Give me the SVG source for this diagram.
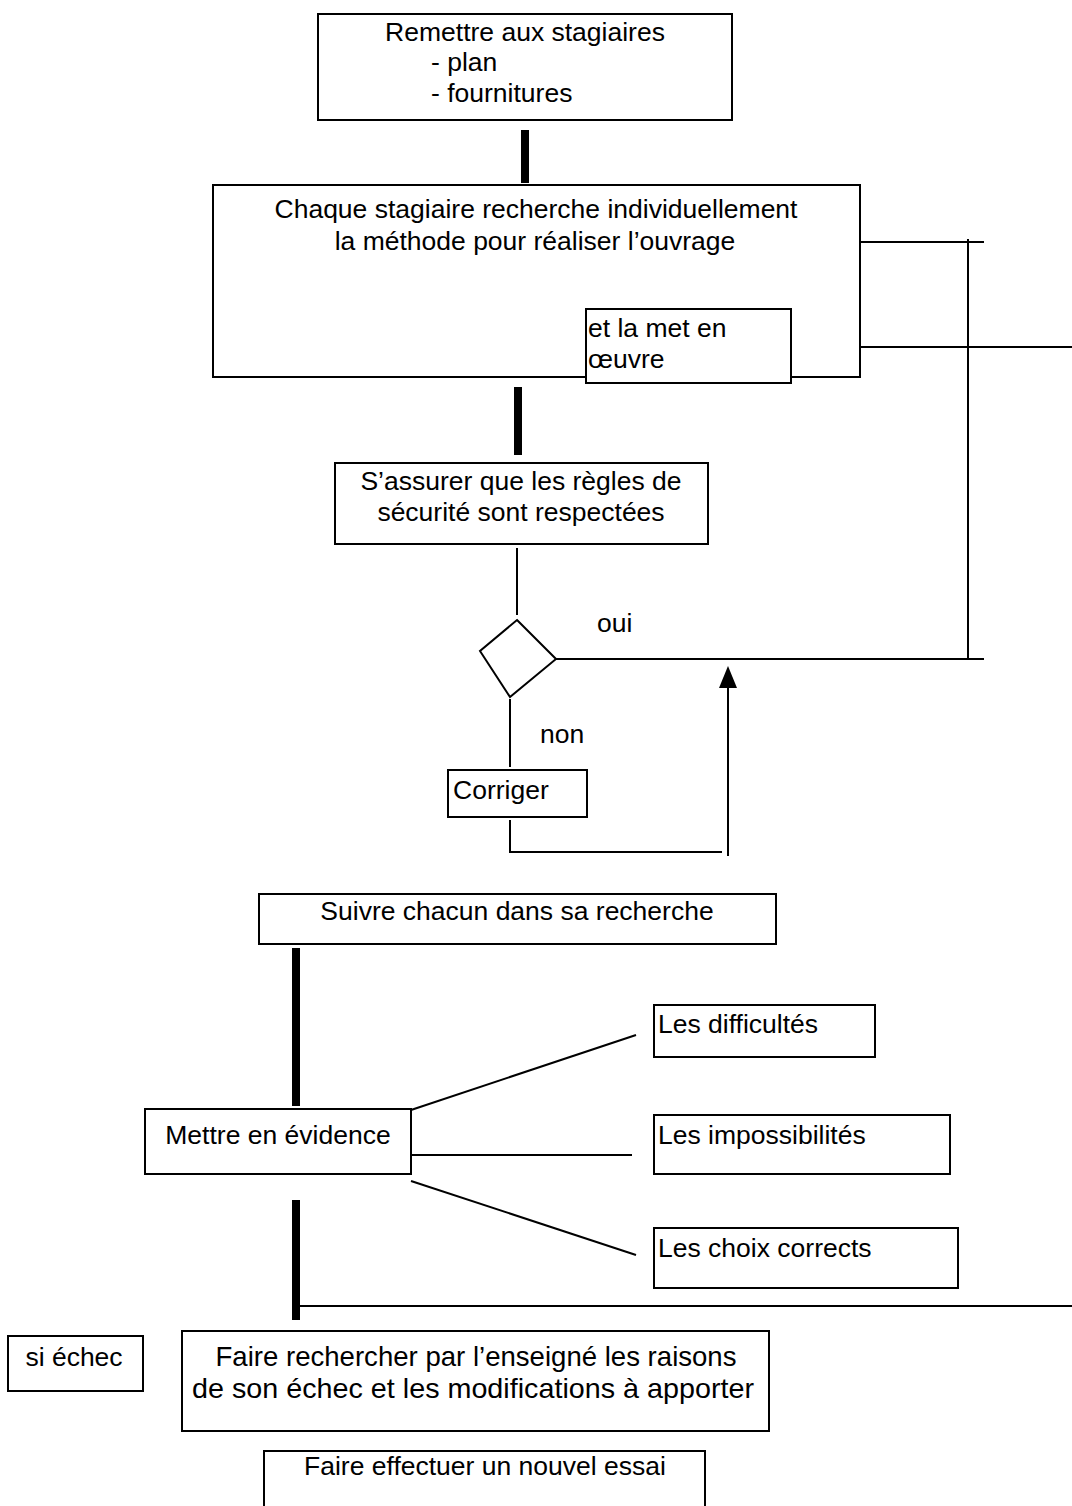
<svg xmlns="http://www.w3.org/2000/svg" width="1072" height="1506" viewBox="0 0 1072 1506">
<style>
.box{fill:#fff;stroke:#000;stroke-width:2}
.ln{stroke:#000;stroke-width:2;fill:none}
.thick{stroke:#000;stroke-width:8;fill:none}
text{font-family:"Liberation Sans",Arial,sans-serif;font-size:26.5px;fill:#000}
.c{text-anchor:middle}
.big{font-size:28px}
</style>
<rect width="1072" height="1506" fill="#fff"/>
<g id="connectors">
<line class="thick" x1="525" y1="130" x2="525" y2="183"/>
<line class="thick" x1="518" y1="387" x2="518" y2="455"/>
<line class="thick" x1="296" y1="948" x2="296" y2="1106"/>
<line class="thick" x1="296" y1="1200" x2="296" y2="1320"/>
<line class="ln" x1="860" y1="242" x2="984" y2="242"/>
<line class="ln" x1="968" y1="239" x2="968" y2="659"/>
<line class="ln" x1="791" y1="347" x2="1072" y2="347"/>
<line class="ln" x1="555" y1="659" x2="984" y2="659"/>
<line class="ln" x1="517" y1="548" x2="517" y2="615"/>
<line class="ln" x1="510" y1="699" x2="510" y2="767"/>
<polyline class="ln" points="510,820 510,852 722,852"/>
<line class="ln" x1="728" y1="856" x2="728" y2="685"/>
<polygon points="728,666 719,688 737,688" fill="#000"/>
<line class="ln" x1="411" y1="1110" x2="636" y2="1035"/>
<line class="ln" x1="411" y1="1155" x2="632" y2="1155"/>
<line class="ln" x1="411" y1="1181" x2="636" y2="1255"/>
<line class="ln" x1="300" y1="1306" x2="1072" y2="1306"/>
</g>
<g id="n-remettre">
<rect class="box" x="318" y="14" width="414" height="106"/>
<text class="c" x="525" y="41">Remettre aux stagiaires</text>
<text x="431" y="71">- plan</text>
<text x="431" y="102">- fournitures</text>
</g>
<g id="n-chaque">
<rect class="box" x="213" y="185" width="647" height="192"/>
<text class="c" x="536" y="218">Chaque stagiaire recherche individuellement</text>
<text class="c" x="535" y="250">la méthode pour réaliser l’ouvrage</text>
</g>
<g id="n-met">
<rect class="box" x="586" y="309" width="205" height="74"/>
<text x="588" y="337">et la met en</text>
<text x="588" y="368">œuvre</text>
</g>
<g id="n-assurer">
<rect class="box" x="335" y="463" width="373" height="81"/>
<text class="c" x="521" y="490">S’assurer que les règles de</text>
<text class="c" x="521" y="521">sécurité sont respectées</text>
</g>
<g id="n-decision">
<polygon class="box" points="517,620 556,659 510,697 480,651"/>
<text x="597" y="632">oui</text>
<text x="540" y="743">non</text>
</g>
<g id="n-corriger">
<rect class="box" x="448" y="770" width="139" height="47"/>
<text x="453" y="799">Corriger</text>
</g>
<g id="n-suivre">
<rect class="box" x="259" y="894" width="517" height="50"/>
<text class="c" x="517" y="920">Suivre chacun dans sa recherche</text>
</g>
<g id="n-difficultes">
<rect class="box" x="654" y="1005" width="221" height="52"/>
<text x="658" y="1033">Les difficultés</text>
</g>
<g id="n-mettre">
<rect class="box" x="145" y="1109" width="266" height="65"/>
<text class="c" x="278" y="1144">Mettre en évidence</text>
</g>
<g id="n-impossibilites">
<rect class="box" x="654" y="1115" width="296" height="59"/>
<text x="658" y="1144">Les impossibilités</text>
</g>
<g id="n-choix">
<rect class="box" x="654" y="1228" width="304" height="60"/>
<text x="658" y="1257">Les choix corrects</text>
</g>
<g id="n-echec">
<rect class="box" x="8" y="1336" width="135" height="55"/>
<text class="c" x="74" y="1366">si échec</text>
</g>
<g id="n-faire-rechercher">
<rect class="box" x="182" y="1331" width="587" height="100"/>
<text class="c big" x="476" y="1366" textLength="521" lengthAdjust="spacingAndGlyphs">Faire rechercher par l’enseigné les raisons</text>
<text class="c big" x="473" y="1398" textLength="562" lengthAdjust="spacingAndGlyphs">de son échec et les modifications à apporter</text>
</g>
<g id="n-essai">
<rect class="box" x="264" y="1451" width="441" height="60"/>
<text class="c" x="485" y="1475">Faire effectuer un nouvel essai</text>
</g>
</svg>
